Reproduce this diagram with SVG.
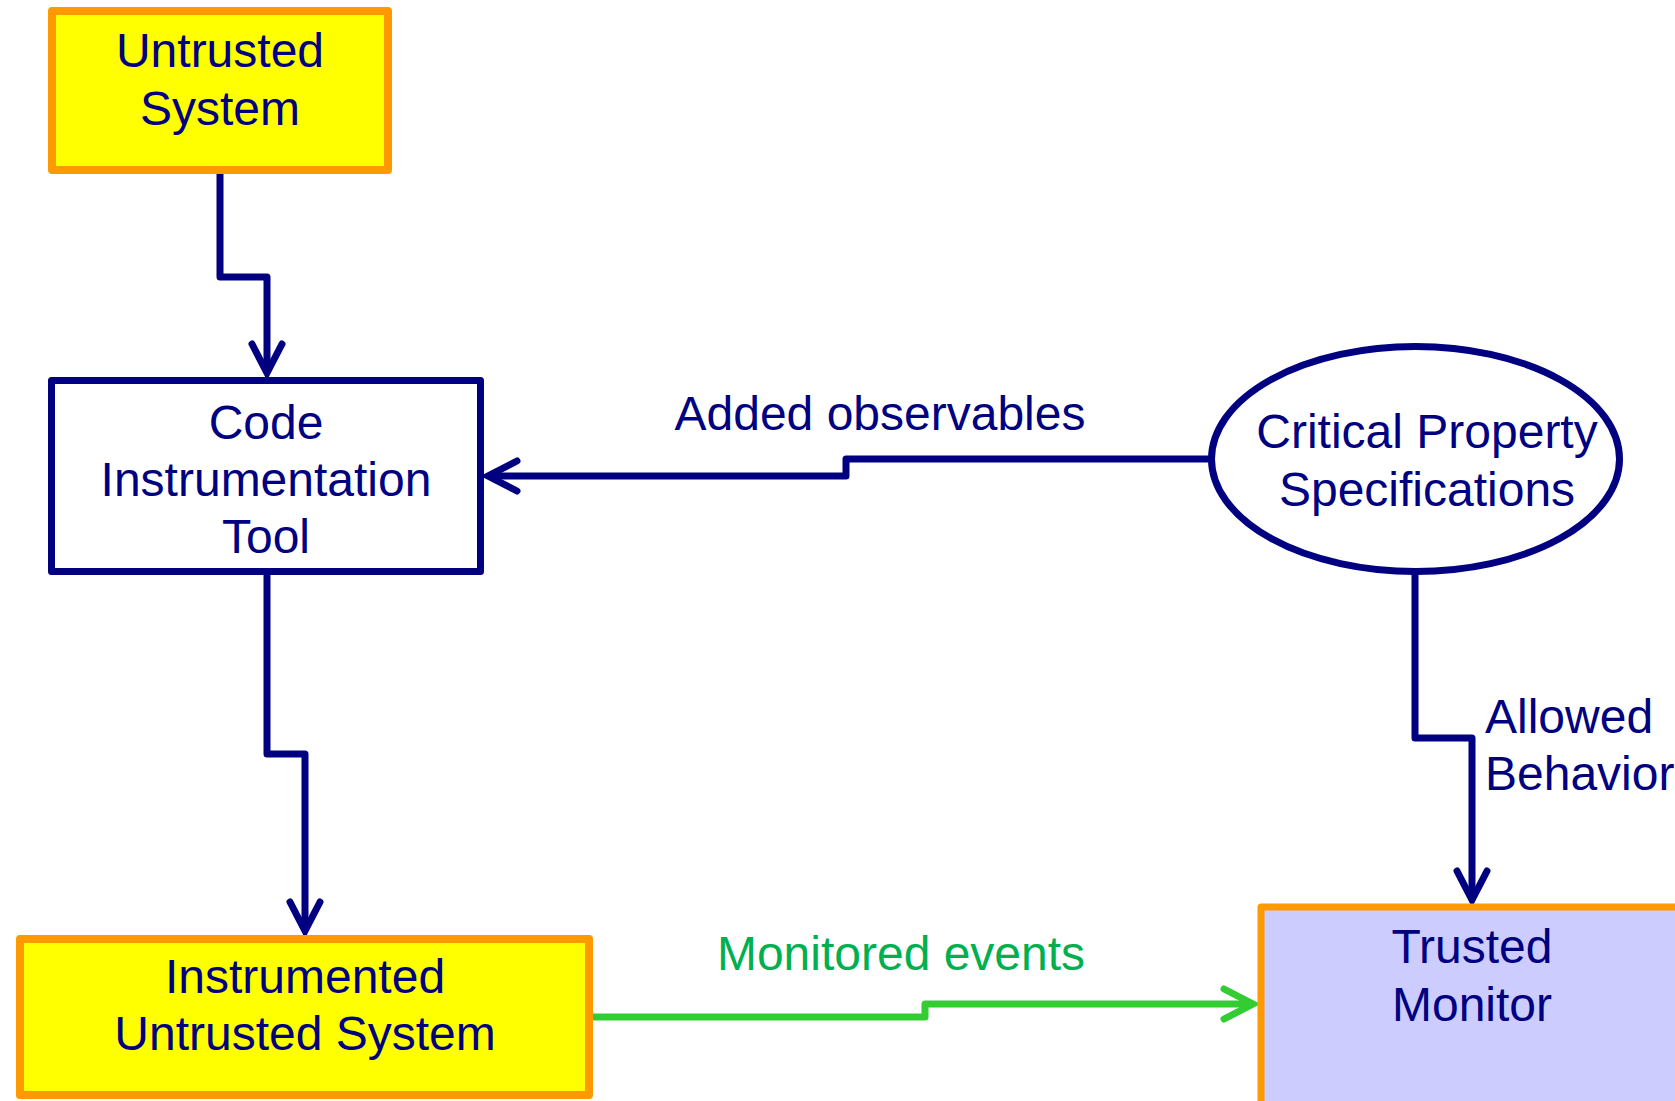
<svg xmlns="http://www.w3.org/2000/svg" width="1675" height="1101" viewBox="0 0 1675 1101">
  <style>
    text { font-family: "Liberation Sans", Arial, sans-serif; font-size: 48px; fill: #000080; text-anchor: middle; }
    .untrusted { fill: #FFFF00; stroke: #FF9900; stroke-width: 8; stroke-linejoin: round; }
    .trusted { fill: #CCCCFF; stroke: #FF9900; stroke-width: 7; stroke-linejoin: round; }
    .tool { fill: #FFFFFF; stroke: #000080; stroke-width: 7; stroke-linejoin: round; }
    .flow { fill: none; stroke: #000080; stroke-width: 7; stroke-linejoin: round; }
    .flow.green { stroke: #33CC33; }
    .label-green { fill: #00B050; }
    .label-left { text-anchor: start; }
  </style>
  <defs>
    <marker id="arrow-navy" markerUnits="userSpaceOnUse" markerWidth="60" markerHeight="60" viewBox="-40 -30 60 60" refX="0" refY="0" orient="auto" overflow="visible">
      <path d="M -29 -15 L 0 0 L -29 15" fill="none" stroke="#000080" stroke-width="7" stroke-linecap="round" stroke-linejoin="miter"/>
    </marker>
    <marker id="arrow-green" markerUnits="userSpaceOnUse" markerWidth="60" markerHeight="60" viewBox="-40 -30 60 60" refX="0" refY="0" orient="auto" overflow="visible">
      <path d="M -29 -15 L 0 0 L -29 15" fill="none" stroke="#33CC33" stroke-width="7" stroke-linecap="round" stroke-linejoin="miter"/>
    </marker>
  </defs>

  <rect width="1675" height="1101" fill="#FFFFFF"/>

  <g id="connectors">
    <path class="flow" d="M 220 174 V 277 H 267 V 373" marker-end="url(#arrow-navy)"/>
    <path class="flow" d="M 267 575 V 754 H 305 V 931" marker-end="url(#arrow-navy)"/>
    <path class="flow" d="M 1211 459 H 846 V 476 H 488" marker-end="url(#arrow-navy)"/>
    <path class="flow" d="M 1415 571 V 738 H 1472 V 900" marker-end="url(#arrow-navy)"/>
    <path class="flow green" d="M 593 1017 H 925 V 1004 H 1253" marker-end="url(#arrow-green)"/>
  </g>

  <g id="untrusted-system">
    <rect class="untrusted" x="52" y="11" width="336" height="159"/>
    <text x="220" y="67">Untrusted</text>
    <text x="220" y="125">System</text>
  </g>

  <g id="code-instrumentation-tool">
    <rect class="tool" x="51.5" y="380.5" width="429" height="191"/>
    <text x="266" y="439">Code</text>
    <text x="266" y="496">Instrumentation</text>
    <text x="266" y="553">Tool</text>
  </g>

  <g id="critical-property-specifications">
    <ellipse cx="1415.5" cy="459" rx="204" ry="112.5" fill="#FFFFFF" stroke="#000080" stroke-width="7"/>
    <text x="1427" y="448">Critical Property</text>
    <text x="1427" y="506">Specifications</text>
  </g>

  <g id="instrumented-untrusted-system">
    <rect class="untrusted" x="20" y="939" width="569" height="156"/>
    <text x="305" y="993">Instrumented</text>
    <text x="305" y="1050">Untrusted System</text>
  </g>

  <g id="trusted-monitor">
    <rect class="trusted" x="1261" y="907" width="440" height="230"/>
    <text x="1472" y="963">Trusted</text>
    <text x="1472" y="1021">Monitor</text>
  </g>

  <g id="connector-labels">
    <text x="880" y="430">Added observables</text>
    <text class="label-green" x="901" y="970">Monitored events</text>
    <text class="label-left" x="1485" y="733">Allowed</text>
    <text class="label-left" x="1485" y="790">Behavior</text>
  </g>
</svg>
